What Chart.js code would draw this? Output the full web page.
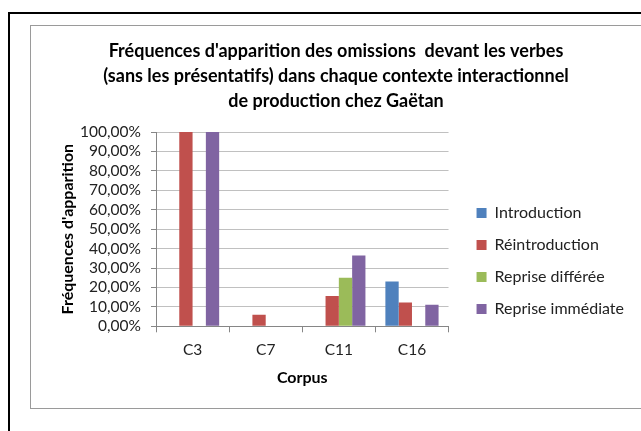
<!DOCTYPE html>
<html>
<head>
<meta charset="utf-8">
<script src="https://cdn.jsdelivr.net/npm/chart.js@4"></script>
<style>
  html, body { margin: 0; padding: 0; background: #fff; overflow: hidden; }
  body { width: 641px; height: 431px; position: relative; }
  .outer { position: absolute; left: 8px; top: 12px; width: 700px; height: 500px; border: 2px solid #000; box-sizing: border-box; }
  .inner { position: absolute; left: 30px; top: 25px; width: 700px; height: 384px; border: 1px solid #9a9a9a; box-sizing: border-box; }
  #chart { position: absolute; left: 0; top: 0; }
</style>
</head>
<body>
<div class="outer"></div>
<div class="inner"></div>
<canvas id="chart" width="636" height="431"></canvas>
<script>
const categories = ['C3', 'C7', 'C11', 'C16'];
const introduction = [0, 0, 0, 23.1];
const reintroduction = [100, 6.0, 15.6, 12.2];
const repriseDifferee = [0, 0, 25.0, 0];
const repriseImmediate = [100, 0, 36.4, 11.1];

const titleLines = [
  "Fréquences d'apparition des omissions  devant les verbes",
  "(sans les présentatifs) dans chaque contexte interactionnel",
  "de production chez Gaëtan"
];

const FONT = 'Lato, "Open Sans", sans-serif';

const ctx = document.getElementById('chart').getContext('2d');
new Chart(ctx, {
  type: 'bar',
  data: {
    labels: categories,
    datasets: [
      { label: 'Introduction', data: introduction, backgroundColor: '#4F81BD' },
      { label: 'Réintroduction', data: reintroduction, backgroundColor: '#C0504D' },
      { label: 'Reprise différée', data: repriseDifferee, backgroundColor: '#9BBB59' },
      { label: 'Reprise immédiate', data: repriseImmediate, backgroundColor: '#8064A2' }
    ]
  },
  options: {
    responsive: false,
    animation: false,
    layout: { padding: { left: 38, top: 28, right: 2, bottom: 44 } },
    datasets: {
      bar: { categoryPercentage: 4 / 5.5, barPercentage: 1, borderWidth: 0 }
    },
    scales: {
      x: {
        grid: { drawOnChartArea: false, drawTicks: true, tickLength: 6, color: '#868686', offset: true },
        border: { color: '#868686' },
        ticks: { color: '#222', font: { family: FONT, size: 15.5, lineHeight: 1 }, padding: 10 },
        title: { display: true, text: 'Corpus', color: '#000', font: { family: FONT, size: 16, weight: 'bold' }, padding: { top: 0, bottom: 0 } }
      },
      y: {
        min: 0,
        max: 100,
        ticks: {
          stepSize: 10,
          autoSkip: false,
          color: '#222',
          font: { family: FONT, size: 15.5 },
          padding: 10,
          callback: (v) => v.toFixed(2).replace('.', ',') + '%'
        },
        grid: { color: '#c0c0c0', tickColor: '#868686', tickLength: 5 },
        border: { color: '#868686' },
        title: { display: true, text: "Fréquences d'apparition", color: '#000', font: { family: FONT, size: 16, weight: 'bold' }, padding: { top: 20, bottom: 10 } },
        afterFit: (scale) => { scale.width = 118; }
      },
      gap: {
        type: 'linear',
        position: 'right',
        display: true,
        grid: { display: false },
        border: { display: false },
        ticks: { display: false },
        afterFit: (scale) => { scale.width = 12; }
      }
    },
    plugins: {
      title: {
        display: true,
        text: titleLines,
        color: '#000',
        font: { family: FONT, size: 18, weight: 'bold', lineHeight: 1.39 },
        padding: { top: 10.5, bottom: 18.5 }
      },
      legend: {
        position: 'right',
        align: 'start',
        maxWidth: 220,
        title: { display: true, text: '', font: { size: 10, lineHeight: 1 }, padding: { top: 151, bottom: 0 } },
        labels: {
          color: '#222',
          font: { family: FONT, size: 16 },
          boxWidth: 10,
          boxHeight: 10,
          padding: 16
        }
      },
      tooltip: { enabled: false }
    }
  }
});
</script>
</body>
</html>
